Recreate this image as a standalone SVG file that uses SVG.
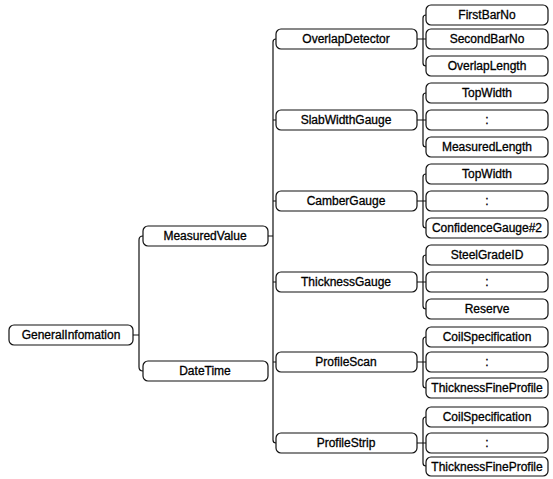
<svg xmlns="http://www.w3.org/2000/svg" width="553" height="479" viewBox="0 0 553 479">
<style>
.b{fill:#fff;stroke:#111;stroke-width:1.2}
.t{font-family:"Liberation Sans",Arial,sans-serif;font-size:12px;fill:#000;stroke:#000;stroke-width:0.3;text-anchor:middle;dominant-baseline:central}
.c{fill:none;stroke:#111;stroke-width:1.2}
</style>
<rect width="553" height="479" fill="#fff"/>
<g id="connectors">
<path class="c" d="M133,335 H139 M143,236 Q139,236 139,240 V367 Q139,371 143,371"/>
<path class="c" d="M268,236 H273 M276,39 Q273,39 273,42 V440 Q273,443 276,443 M273,120 H276 M273,201 H276 M273,282 H276 M273,362 H276"/>
<path class="c" d="M417,39 H426 M426,15 Q423,15 423,18 V63 Q423,66 426,66"/>
<path class="c" d="M417,120 H426 M426,93 Q423,93 423,96 V144 Q423,147 426,147"/>
<path class="c" d="M417,201 H426 M426,174 Q423,174 423,177 V225 Q423,228 426,228"/>
<path class="c" d="M417,282 H426 M426,255 Q423,255 423,258 V306 Q423,309 426,309"/>
<path class="c" d="M417,362 H426 M426,337 Q423,337 423,340 V385 Q423,388 426,388"/>
<path class="c" d="M417,443 H426 M426,417 Q423,417 423,420 V463 Q423,466 426,466"/>
</g>
<g id="GeneralInfomation"><rect class="b" x="9" y="325" width="124" height="20" rx="5"/><text class="t" x="71" y="335">GeneralInfomation</text></g>
<g id="MeasuredValue"><rect class="b" x="143" y="226" width="125" height="20" rx="5"/><text class="t" x="205" y="236">MeasuredValue</text></g>
<g id="DateTime"><rect class="b" x="143" y="361" width="125" height="20" rx="5"/><text class="t" x="205" y="371">DateTime</text></g>
<g id="OverlapDetector"><rect class="b" x="276" y="29" width="141" height="20" rx="5"/><text class="t" x="346" y="39">OverlapDetector</text></g>
<g id="SlabWidthGauge"><rect class="b" x="276" y="110" width="141" height="20" rx="5"/><text class="t" x="346" y="120">SlabWidthGauge</text></g>
<g id="CamberGauge"><rect class="b" x="276" y="191" width="141" height="20" rx="5"/><text class="t" x="346" y="201">CamberGauge</text></g>
<g id="ThicknessGauge"><rect class="b" x="276" y="272" width="141" height="20" rx="5"/><text class="t" x="346" y="282">ThicknessGauge</text></g>
<g id="ProfileScan"><rect class="b" x="276" y="352" width="141" height="20" rx="5"/><text class="t" x="346" y="362">ProfileScan</text></g>
<g id="ProfileStrip"><rect class="b" x="276" y="433" width="141" height="20" rx="5"/><text class="t" x="346" y="443">ProfileStrip</text></g>
<g id="FirstBarNo"><rect class="b" x="426" y="5" width="122" height="20" rx="5"/><text class="t" x="487" y="15">FirstBarNo</text></g>
<g id="SecondBarNo"><rect class="b" x="426" y="29" width="122" height="20" rx="5"/><text class="t" x="487" y="39">SecondBarNo</text></g>
<g id="OverlapLength"><rect class="b" x="426" y="56" width="122" height="20" rx="5"/><text class="t" x="487" y="66">OverlapLength</text></g>
<g id="TopWidth1"><rect class="b" x="426" y="83" width="122" height="20" rx="5"/><text class="t" x="487" y="93">TopWidth</text></g>
<g id="Dots1"><rect class="b" x="426" y="110" width="122" height="20" rx="5"/><text class="t" x="487" y="120">:</text></g>
<g id="MeasuredLength"><rect class="b" x="426" y="137" width="122" height="20" rx="5"/><text class="t" x="487" y="147">MeasuredLength</text></g>
<g id="TopWidth2"><rect class="b" x="426" y="164" width="122" height="20" rx="5"/><text class="t" x="487" y="174">TopWidth</text></g>
<g id="Dots2"><rect class="b" x="426" y="191" width="122" height="20" rx="5"/><text class="t" x="487" y="201">:</text></g>
<g id="ConfidenceGauge2"><rect class="b" x="426" y="218" width="122" height="20" rx="5"/><text class="t" x="487" y="228">ConfidenceGauge#2</text></g>
<g id="SteelGradeID"><rect class="b" x="426" y="245" width="122" height="20" rx="5"/><text class="t" x="487" y="255">SteelGradeID</text></g>
<g id="Dots3"><rect class="b" x="426" y="272" width="122" height="20" rx="5"/><text class="t" x="487" y="282">:</text></g>
<g id="Reserve"><rect class="b" x="426" y="299" width="122" height="20" rx="5"/><text class="t" x="487" y="309">Reserve</text></g>
<g id="CoilSpecification1"><rect class="b" x="426" y="327" width="122" height="20" rx="5"/><text class="t" x="487" y="337">CoilSpecification</text></g>
<g id="Dots4"><rect class="b" x="426" y="352" width="122" height="20" rx="5"/><text class="t" x="487" y="362">:</text></g>
<g id="ThicknessFineProfile1"><rect class="b" x="426" y="378" width="122" height="20" rx="5"/><text class="t" x="487" y="388">ThicknessFineProfile</text></g>
<g id="CoilSpecification2"><rect class="b" x="426" y="407" width="122" height="20" rx="5"/><text class="t" x="487" y="417">CoilSpecification</text></g>
<g id="Dots5"><rect class="b" x="426" y="433" width="122" height="20" rx="5"/><text class="t" x="487" y="443">:</text></g>
<g id="ThicknessFineProfile2"><rect class="b" x="426" y="457" width="122" height="19" rx="5"/><text class="t" x="487" y="466.5">ThicknessFineProfile</text></g>
</svg>
